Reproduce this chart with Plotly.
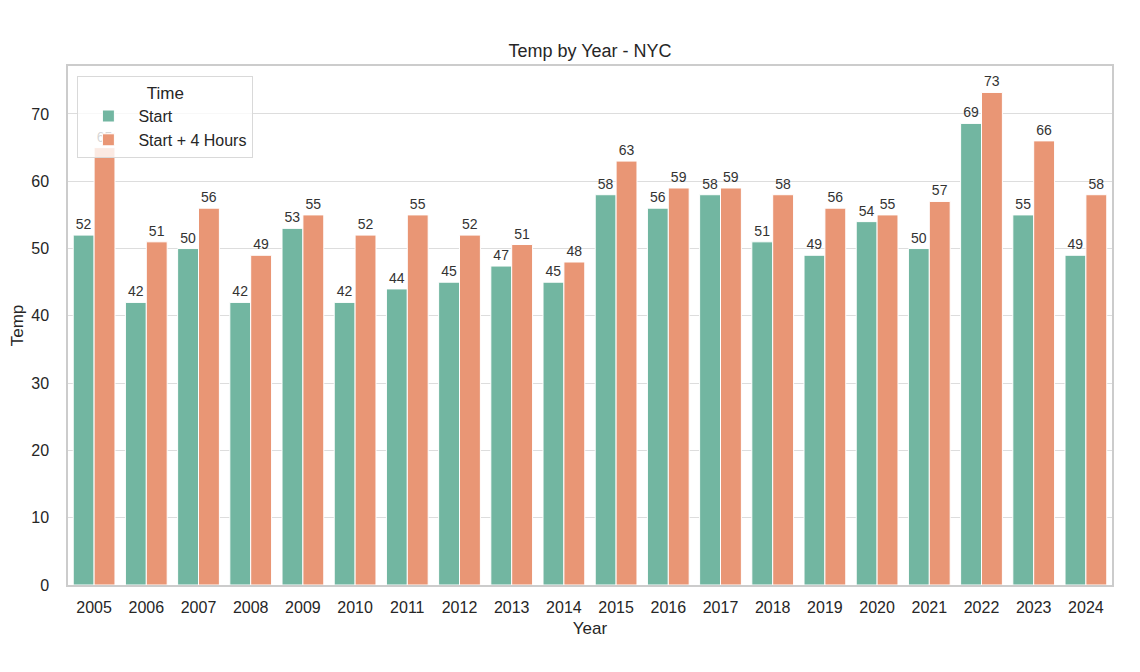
import plotly.graph_objects as go

years = [str(y) for y in range(2005, 2025)]
start_temp = [52, 42, 50, 42, 53, 42, 44, 45, 47.4, 45,
              58, 56, 58, 51, 49, 54, 50, 68.6, 55, 49]
plus4_temp = [65, 51, 56, 49, 55, 52, 55, 52, 50.6, 48,
              63, 59, 59, 58, 56, 55, 57, 73.2, 66, 58]
series_names = ["Start", "Start + 4 Hours"]
y_ticks = [0, 10, 20, 30, 40, 50, 60, 70]

colors = ["#72b6a1", "#e99675"]
font_family = "Liberation Sans, Arial, sans-serif"

fig = go.Figure()
for name, vals, col in zip(series_names, [start_temp, plus4_temp], colors):
    fig.add_trace(go.Bar(
        x=years, y=vals, name=name,
        marker=dict(color=col, line=dict(color="white", width=1)),
        texttemplate="%{y:.0f}", textposition="outside",
        textfont=dict(size=14, color="#333333"),
        constraintext="none", cliponaxis=False,
    ))

fig.update_layout(
    width=1140, height=672,
    barmode="group", bargap=0.2, bargroupgap=0,
    plot_bgcolor="white", paper_bgcolor="white",
    font=dict(family=font_family, size=16, color="#262626"),
    margin=dict(l=60, r=36, t=58, b=95),
    title=dict(text="Temp by Year - NYC", x=0.5, xref="paper", xanchor="center",
               y=1 - 43 / 672, yanchor="middle",
               font=dict(size=18, color="#262626")),
    legend=dict(
        title=dict(text="Time", side="top center", font=dict(size=17)),
        x=0.009, y=1 - 10 / 519, xanchor="left", yanchor="top",
        bgcolor="rgba(255,255,255,0.8)", bordercolor="#d9d9d9", borderwidth=1,
        font=dict(size=16), itemwidth=50,
    ),
    xaxis=dict(title=dict(text="Year", standoff=7, font=dict(size=17)),
               showgrid=False, showline=True, automargin=False,
               linecolor="#cccccc", linewidth=1.5, mirror=True, ticks="",
               ticklabelstandoff=7, tickfont=dict(size=16)),
    yaxis=dict(title=dict(text="Temp", standoff=7, font=dict(size=17)),
               range=[0, 77.13], tickvals=y_ticks, automargin=False,
               showgrid=True, gridcolor="#dddddd", gridwidth=1, zeroline=False,
               showline=True, linecolor="#cccccc", linewidth=1.5, mirror=True,
               ticks="", ticklabelstandoff=14, tickfont=dict(size=16)),
)

fig.write_html("out.html")
